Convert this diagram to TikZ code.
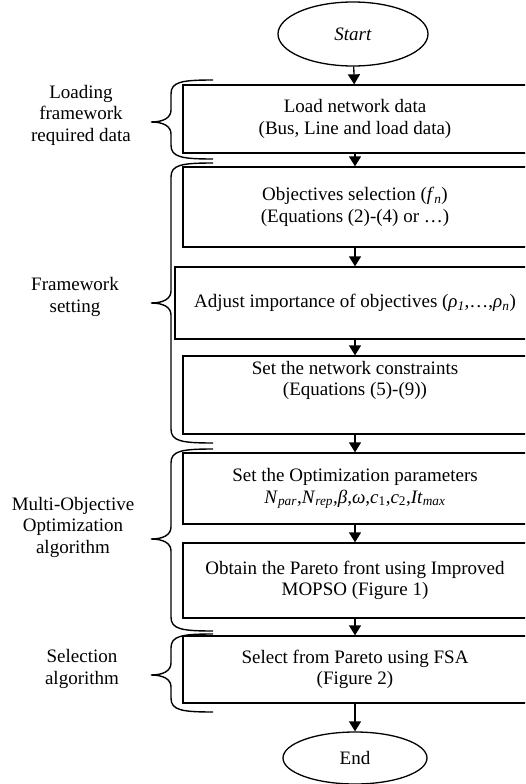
\documentclass[tikz,border=0pt]{standalone}
\usepackage{fontspec}
\setmainfont{Liberation Serif}
\usepackage{tikz}
\usetikzlibrary{arrows.meta,shapes.geometric}

\begin{document}
\begin{tikzpicture}[x=1pt,y=-1pt,line width=1.3pt,
    every node/.style={font=\fontsize{19}{21.5}\selectfont,align=center,inner sep=2pt},
    box/.style={draw,rectangle,minimum width=344pt},
    term/.style={draw,ellipse},
    note/.style={},
    flow/.style={-{Triangle[length=10pt,width=12pt]}},
    brace/.style={line width=1.4pt}]
    \path[use as bounding box,clip] (0,0) rectangle (525,784);
    % flow chart
    \node[term,minimum width=150pt,minimum height=64pt](start) at (353,34){\textit{Start}};
    \node[box,minimum height=68pt](load) at (355,119){Load network data\\(Bus, Line and load data)};
    \node[box,minimum height=80pt](obj) at (355,207){Objectives selection (\textit{f}\textsubscript{\textit{n}})\\(Equations (2)-(4) or …)};
    \node[box,minimum width=360pt,minimum height=72pt](imp) at (355,303){Adjust importance of objectives (\textit{ρ}\textsubscript{\textit{1}},…,\textit{ρ}\textsubscript{\textit{n}})};
    \node[box,minimum height=78pt](cons) at (355,395){Set the network constraints\\(Equations (5)-(9))\\[12pt]\mbox{}};
    \node[box,minimum height=71pt](par) at (355,488.5){Set the Optimization parameters\\\textit{N}\textsubscript{\textit{par}},\textit{N}\textsubscript{\textit{rep}},\textit{β},\textit{ω},\textit{c}\textsubscript{1},\textit{c}\textsubscript{2},\textit{It}\textsubscript{\textit{max}}};
    \node[box,minimum height=75pt](pareto) at (355,580.5){Obtain the Pareto front using Improved\\MOPSO (Figure 1)};
    \node[box,minimum height=67pt](sel) at (355,669.5){Select from Pareto using FSA\\(Figure 2)};
    \node[term,minimum width=144pt,minimum height=52pt](end) at (355,758){End};
    \draw[flow] (start) -- (load);
    \draw[flow] (load) -- (obj);
    \draw[flow] (obj) -- (imp);
    \draw[flow] (imp) -- (cons);
    \draw[flow] (cons) -- (par);
    \draw[flow] (par) -- (pareto);
    \draw[flow] (pareto) -- (sel);
    \draw[flow] (sel) -- (end);
    % stage labels
    \node[note](stage1) at (81,115){Loading\\framework\\required data};
    \node[note](stage2) at (75,297){Framework\\setting};
    \node[note](stage3) at (73,527){Multi-Objective\\Optimization\\algorithm};
    \node[note](stage4) at (82,669){Selection\\algorithm};
    % braces
    \foreach \t/\m/\b in {80/122/159, 163/303/443, 449/539/631, 634/675/712}
      \draw[brace] (213,\t) .. controls (181,\t) and (171,\t+2) .. (171,\t+14)
        -- (171,\m-12) .. controls (171,\m-4) and (163,\m) .. (151,\m)
        .. controls (163,\m) and (171,\m+4) .. (171,\m+12)
        -- (171,\b-14) .. controls (171,\b-2) and (181,\b) .. (213,\b);
\end{tikzpicture}
\end{document}
